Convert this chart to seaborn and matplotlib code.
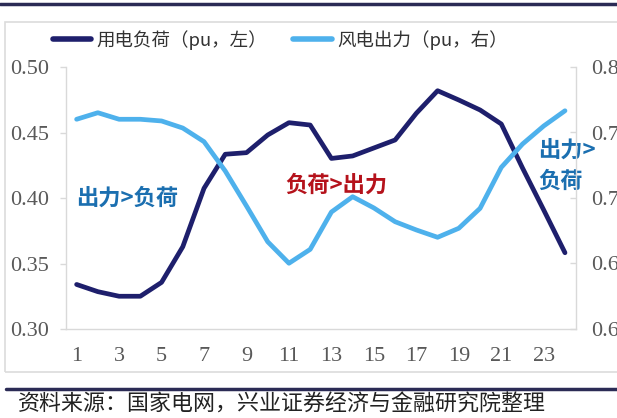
import matplotlib
matplotlib.use("Agg")
import matplotlib.pyplot as plt
import seaborn as sns
import pandas as pd
from matplotlib.lines import Line2D
from matplotlib.patches import Rectangle
from matplotlib.ticker import FormatStrFormatter, FixedLocator

hours = list(range(1, 25))
load = [0.334, 0.3285, 0.325, 0.325, 0.3356, 0.3628, 0.4074, 0.4334, 0.4346, 0.4481,
        0.4575, 0.4557, 0.4302, 0.4321, 0.4382, 0.4443, 0.4647, 0.4819, 0.4748, 0.4672,
        0.4565, 0.4229, 0.3908, 0.3582]
wind = [0.7601, 0.7651, 0.7601, 0.7601, 0.7588, 0.7534, 0.7430, 0.7206, 0.6939, 0.6666,
        0.6502, 0.6608, 0.6893, 0.7010, 0.6924, 0.6819, 0.6756, 0.6700, 0.6769, 0.6921,
        0.7234, 0.7412, 0.7550, 0.7666]
xticks = [1, 3, 5, 7, 9, 11, 13, 15, 17, 19, 21, 23]
left_ticks = [0.30, 0.35, 0.40, 0.45, 0.50]
right_ticks = [0.60, 0.65, 0.70, 0.75, 0.80]
name_load = "用电负荷（pu，左）"
name_wind = "风电出力（pu，右）"
source = "资料来源：国家电网，兴业证券经济与金融研究院整理"

sns.set_style("white")
plt.rcParams['font.family'] = ['Noto Sans CJK SC', 'DejaVu Sans']

DARK = "#1e1f6c"
LIGHT = "#4eb1ec"
GRAY = "#d9d9d9"
TXT = "#595959"
W, H = 617, 418

df = pd.DataFrame({"hour": hours, "load": load, "wind": wind})

fig = plt.figure(figsize=(W / 100, H / 100), dpi=100)
ax = fig.add_axes([66 / W, 1 - 329 / H, (575.6 - 66) / W, (329 - 67) / H])
ax2 = ax.twinx()

sns.lineplot(data=df, x="hour", y="load", ax=ax, color=DARK, linewidth=3.4, legend=False)
sns.lineplot(data=df, x="hour", y="wind", ax=ax2, color=LIGHT, linewidth=3.4, legend=False)

ax.set_xlim(0.5, 24.5)
ax.set_ylim(0.30, 0.50)
ax2.set_ylim(0.60, 0.80)
ax.set_xlabel("")
ax.set_ylabel("")
ax2.set_ylabel("")
ax.xaxis.set_major_locator(FixedLocator(xticks))
ax.yaxis.set_major_locator(FixedLocator(left_ticks))
ax2.yaxis.set_major_locator(FixedLocator(right_ticks))
ax.yaxis.set_major_formatter(FormatStrFormatter('%.2f'))
ax2.yaxis.set_major_formatter(FormatStrFormatter('%.2f'))

for lab in ax.get_xticklabels() + ax.get_yticklabels() + ax2.get_yticklabels():
    lab.set_fontfamily('Liberation Serif')
    lab.set_fontsize(16)
    lab.set_color(TXT)

ax.tick_params(axis='x', length=0, pad=13)
ax.tick_params(axis='y', length=4, width=1, color=GRAY, direction='out', pad=8, left=True)
ax2.tick_params(axis='y', length=4, width=1, color=GRAY, direction='in', pad=11, right=True)

for a in (ax, ax2):
    a.spines['top'].set_visible(False)
    for s in ('left', 'right', 'bottom'):
        a.spines[s].set_color(GRAY)
        a.spines[s].set_linewidth(1)
ax.spines['right'].set_visible(False)
ax2.spines['left'].set_visible(False)
ax2.spines['bottom'].set_visible(False)

# annotations
ax.text(1.0, 0.4, "出力>负荷", color="#1b6fb0", fontsize=16, fontweight='bold',
        ha='left', va='center')
ax.text(10.85, 0.4095, "负荷>出力", color="#b5121b", fontsize=16, fontweight='bold',
        ha='left', va='center')
ax.text(22.75, 0.4355, "出力>", color="#1b6fb0", fontsize=16, fontweight='bold',
        ha='left', va='center')
ax.text(22.75, 0.4125, "负荷", color="#1b6fb0", fontsize=16, fontweight='bold',
        ha='left', va='center')

# legend
handles = [Line2D([0], [0], color=DARK, linewidth=4),
           Line2D([0], [0], color=LIGHT, linewidth=4)]
leg = fig.legend(handles, [name_load, name_wind], loc='center',
                 bbox_to_anchor=(280 / W, 1 - 40 / H), ncol=2, frameon=False,
                 fontsize=13.3, handlelength=2.1, handletextpad=0.25, columnspacing=1.45)
for t in leg.get_texts():
    t.set_color("#333333")

# decorations
fig.add_artist(Line2D([0, 1], [1 - 4 / H, 1 - 4 / H], color="#2b2b55", linewidth=2.5,
                      transform=fig.transFigure))
fig.add_artist(Rectangle((5 / W, 1 - 372 / H), (W + 5) / W, (372 - 22) / H,
                         transform=fig.transFigure, fill=False, edgecolor="#dcdcdc",
                         linewidth=1.2))
fig.add_artist(Line2D([6 / W, 1], [1 - 389 / H, 1 - 389 / H], color="#2b2b55",
                      linewidth=2.5, transform=fig.transFigure))
fig.text(18 / W, 1 - 405 / H, source, fontsize=15.8, color="#222222", ha='left', va='center')

fig.savefig("out.png", dpi=100)
